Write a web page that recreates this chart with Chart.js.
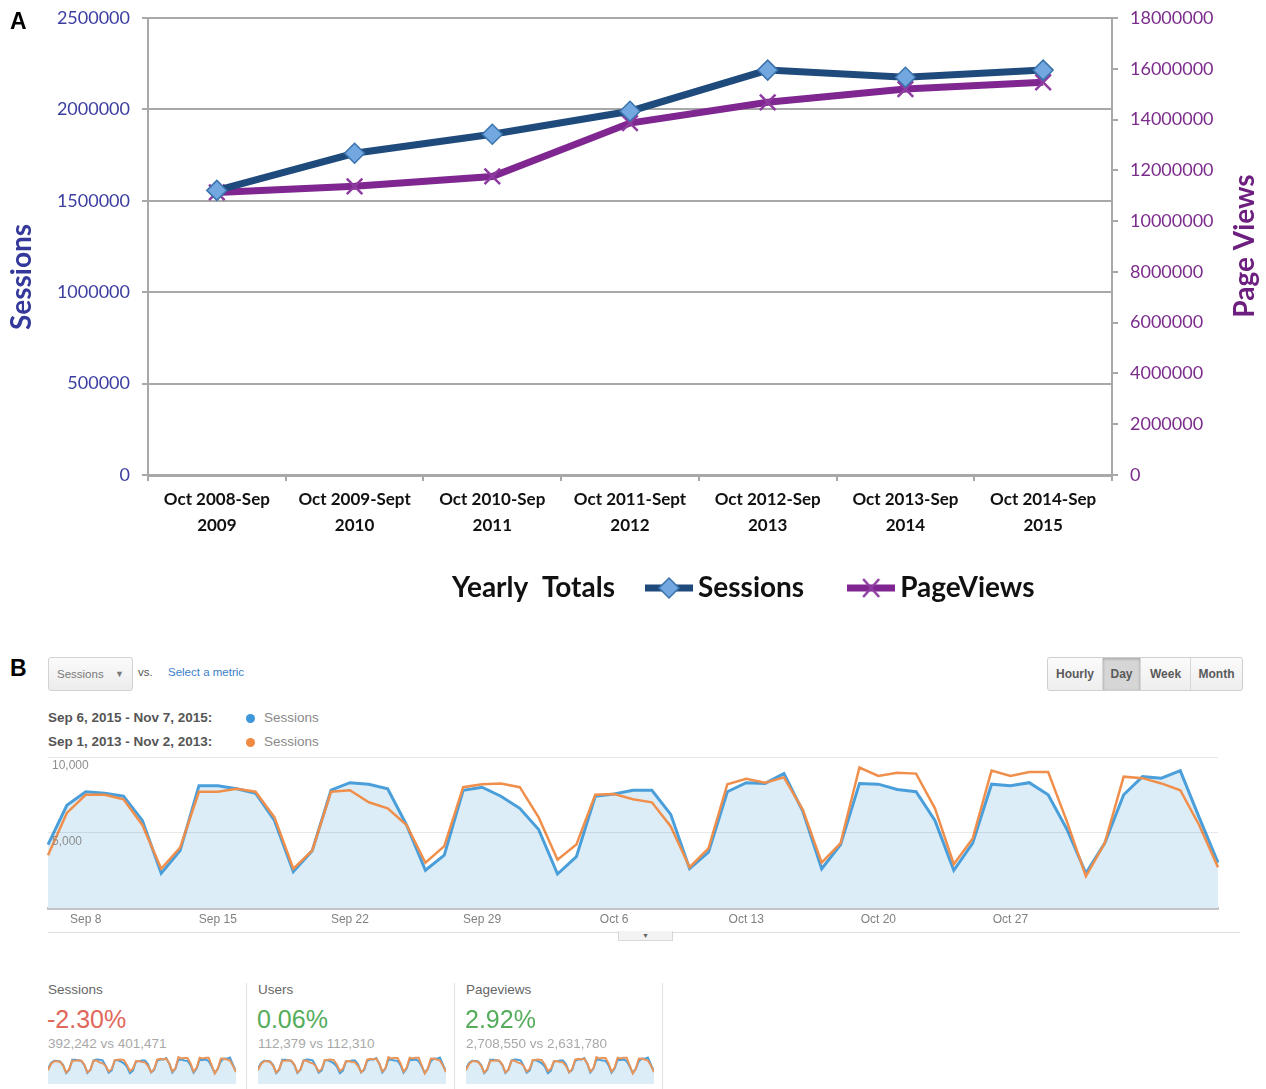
<!DOCTYPE html>
<html>
<head>
<meta charset="utf-8">
<script src="https://cdn.jsdelivr.net/npm/chart.js"></script>
<style>
  body { margin: 0; width: 1266px; height: 1089px; position: relative; overflow: hidden; background: #fff; font-family: "Liberation Sans", Arial, sans-serif; }
  .abs { position: absolute; }
  .panel { font-weight: bold; font-size: 23px; color: #000; }
  .dropdown { left: 48px; top: 657px; width: 83px; height: 32px; border: 1px solid #d2d2d2; border-radius: 3px; background: linear-gradient(#fbfbfb, #ececec); font-size: 11.5px; color: #7a7a7a; line-height: 32px; }
  .btns { left: 1047px; top: 657px; height: 32px; border: 1px solid #cfcfcf; border-radius: 3px; display: flex; background: linear-gradient(#fbfbfb, #eeeeee); }
  .btns span { display: block; height: 32px; line-height: 32px; text-align: center; font-size: 12px; font-weight: bold; color: #5a5a5a; border-left: 1px solid #d6d6d6; }
  .btns span:first-child { border-left: none; }
  .btns span.on { background: #d6d6d6; box-shadow: inset 0 1px 3px rgba(0,0,0,0.25); }
  .range { font-size: 13.5px; font-weight: bold; color: #555; }
  .dot { width: 9px; height: 9px; border-radius: 50%; }
  .ser { font-size: 13.5px; color: #8a8a8a; }
  .mlabel { font-size: 13.5px; color: #666; }
  .mval { font-size: 25px; }
  .msub { font-size: 13.5px; color: #a8a8a8; }
  .sep { width: 1px; background: #e2e2e2; top: 983px; height: 106px; }
</style>
</head>
<body>

<div class="abs" style="left:0;top:0;"><canvas id="yearChart" width="1266" height="653"></canvas></div>
<div class="abs panel" style="left:10px;top:8px;">A</div>

<div class="abs panel" style="left:10px;top:655px;">B</div>
<div class="abs dropdown"><span style="margin-left:8px;">Sessions</span><span style="position:absolute;right:8px;font-size:9px;">&#9660;</span></div>
<div class="abs" style="left:138px;top:666px;font-size:11.5px;color:#555;">vs.</div>
<div class="abs" style="left:168px;top:666px;font-size:11.5px;color:#3a80c9;">Select a metric</div>
<div class="abs btns">
  <span style="width:54px;">Hourly</span><span class="on" style="width:37px;">Day</span><span style="width:49px;">Week</span><span style="width:51px;">Month</span>
</div>

<div class="abs range" style="left:48px;top:710px;">Sep 6, 2015 - Nov 7, 2015:</div>
<div class="abs dot" style="left:246px;top:714px;background:#3d97d8;"></div>
<div class="abs ser" style="left:264px;top:710px;">Sessions</div>
<div class="abs range" style="left:48px;top:734px;">Sep 1, 2013 - Nov 2, 2013:</div>
<div class="abs dot" style="left:246px;top:738px;background:#f08a43;"></div>
<div class="abs ser" style="left:264px;top:734px;">Sessions</div>

<div class="abs" style="left:0;top:745px;"><canvas id="dayChart" width="1266" height="195"></canvas></div>
<div class="abs" style="left:48px;top:932px;width:1192px;height:1px;background:#dedede;"></div>
<div class="abs" style="left:618px;top:931px;width:53px;height:9px;border:1px solid #d8d8d8;border-top:none;background:#f3f3f3;text-align:center;font-size:7px;line-height:9px;color:#666;">&#9660;</div>

<div class="abs sep" style="left:246px;"></div>
<div class="abs sep" style="left:454px;"></div>
<div class="abs sep" style="left:662px;"></div>

<div class="abs mlabel" style="left:48px;top:982px;">Sessions</div>
<div class="abs mval" style="left:47px;top:1005px;color:#e0685b;">-2.30%</div>
<div class="abs msub" style="left:48px;top:1036px;">392,242 vs 401,471</div>
<div class="abs" style="left:48px;top:1054px;"><canvas id="spark1" width="188" height="30"></canvas></div>

<div class="abs mlabel" style="left:258px;top:982px;">Users</div>
<div class="abs mval" style="left:257px;top:1005px;color:#55ad5c;">0.06%</div>
<div class="abs msub" style="left:258px;top:1036px;">112,379 vs 112,310</div>
<div class="abs" style="left:258px;top:1054px;"><canvas id="spark2" width="188" height="30"></canvas></div>

<div class="abs mlabel" style="left:466px;top:982px;">Pageviews</div>
<div class="abs mval" style="left:465px;top:1005px;color:#55ad5c;">2.92%</div>
<div class="abs msub" style="left:466px;top:1036px;">2,708,550 vs 2,631,780</div>
<div class="abs" style="left:466px;top:1054px;"><canvas id="spark3" width="188" height="30"></canvas></div>

<script>
// panel A: yearly totals
var periods = [
  ["Oct 2008-Sep", "2009"],
  ["Oct 2009-Sept", "2010"],
  ["Oct 2010-Sep", "2011"],
  ["Oct 2011-Sept", "2012"],
  ["Oct 2012-Sep", "2013"],
  ["Oct 2013-Sep", "2014"],
  ["Oct 2014-Sep", "2015"]
];
var sessionsYear = [1557000, 1760000, 1864000, 1990000, 2215000, 2176000, 2215000];
var pageViewsYear = [11130000, 11370000, 11760000, 13860000, 14680000, 15200000, 15470000];

// panel B: daily sessions, Sep 6 - Nov 7
var days = [
  "Sep 6","Sep 7","Sep 8","Sep 9","Sep 10","Sep 11","Sep 12",
  "Sep 13","Sep 14","Sep 15","Sep 16","Sep 17","Sep 18","Sep 19",
  "Sep 20","Sep 21","Sep 22","Sep 23","Sep 24","Sep 25","Sep 26",
  "Sep 27","Sep 28","Sep 29","Sep 30","Oct 1","Oct 2","Oct 3",
  "Oct 4","Oct 5","Oct 6","Oct 7","Oct 8","Oct 9","Oct 10",
  "Oct 11","Oct 12","Oct 13","Oct 14","Oct 15","Oct 16","Oct 17",
  "Oct 18","Oct 19","Oct 20","Oct 21","Oct 22","Oct 23","Oct 24",
  "Oct 25","Oct 26","Oct 27","Oct 28","Oct 29","Oct 30","Oct 31",
  "Nov 1","Nov 2","Nov 3","Nov 4","Nov 5","Nov 6","Nov 7"
];
var dayTicks = ["Sep 8", "Sep 15", "Sep 22", "Sep 29", "Oct 6", "Oct 13", "Oct 20", "Oct 27"];
var sessions2015 = [
  4200, 6800, 7700, 7600, 7400, 5800, 2300,
  3800, 8100, 8100, 7900, 7600, 5800, 2400,
  3800, 7800, 8300, 8200, 7900, 5500, 2500,
  3500, 7800, 8000, 7400, 6600, 5200, 2250,
  3400, 7400, 7550, 7800, 7800, 6200, 2600,
  3700, 7700, 8300, 8250, 8900, 6400, 2600,
  4200, 8250, 8200, 7850, 7700, 5800, 2500,
  4300, 8200, 8100, 8300, 7500, 5200, 2300,
  4300, 7500, 8700, 8600, 9100, 6000, 3000
];
var sessions2013 = [
  3500, 6300, 7500, 7500, 7200, 5500, 2600,
  4000, 7700, 7700, 7900, 7700, 6000, 2600,
  3800, 7700, 7800, 7000, 6600, 5500, 3000,
  4100, 8000, 8200, 8250, 8000, 6000, 3200,
  4200, 7500, 7550, 7200, 7000, 5400, 2700,
  3950, 8200, 8550, 8300, 8650, 6500, 3000,
  4300, 9300, 8750, 8950, 8900, 6600, 2900,
  4600, 9100, 8750, 9000, 9000, 5700, 2100,
  4300, 8700, 8600, 8250, 7800, 5500, 2700
];

var navy = "#1f4a7c";
var purple = "#7f2690";
var gridGray = "#a8a8a8";

function makeIcon(kind) {
  var c = document.createElement("canvas");
  c.width = 48; c.height = 24;
  var g = c.getContext("2d");
  g.lineWidth = 7;
  g.strokeStyle = kind === "diamond" ? navy : purple;
  g.beginPath(); g.moveTo(0, 12); g.lineTo(48, 12); g.stroke();
  if (kind === "diamond") {
    g.beginPath();
    g.moveTo(24, 2); g.lineTo(34, 12); g.lineTo(24, 22); g.lineTo(14, 12); g.closePath();
    g.fillStyle = "#72a8df"; g.fill();
    g.lineWidth = 1.5; g.strokeStyle = "#3b73ad"; g.stroke();
  } else {
    g.lineWidth = 2.5; g.strokeStyle = "#8e3ba0";
    g.beginPath();
    g.moveTo(16, 3); g.lineTo(32, 21); g.moveTo(32, 3); g.lineTo(16, 21);
    g.stroke();
  }
  return c;
}
var legendIcons = [makeIcon("diamond"), makeIcon("cross")];

var extrasA = {
  id: "extrasA",
  afterLayout: function(chart) {
    // legend sits to the right of the "Yearly Totals" caption
    chart.legend.left = 602;
    chart.legend.top = 522;
  },
  afterDraw: function(chart) {
    var ctx = chart.ctx;
    ctx.save();
    ctx.font = "bold 28px Lato";
    ctx.fillStyle = "#111";
    ctx.textAlign = "right";
    ctx.textBaseline = "middle";
    ctx.fillText("Yearly  Totals", 615, 588);
    ctx.textAlign = "center";
    // axis titles, both reading bottom to top
    ctx.save();
    ctx.translate(22, 277);
    ctx.rotate(-Math.PI / 2);
    ctx.fillStyle = "#33389a";
    ctx.fillText("Sessions", 0, 0);
    ctx.restore();
    ctx.translate(1245, 246);
    ctx.rotate(-Math.PI / 2);
    ctx.fillStyle = "#6d1f80";
    ctx.fillText("Page Views", 0, 0);
    ctx.restore();
  }
};

function fixSide(width) {
  return function(s) {
    s.width = width;
    s.paddingTop = 0;
  };
}

Chart.defaults.font.family = "Lato";

new Chart("yearChart", {
  type: "line",
  data: {
    labels: periods,
    datasets: [{
      label: "Sessions",
      data: sessionsYear,
      yAxisID: "y",
      borderColor: navy,
      borderWidth: 7,
      pointStyle: "rectRot",
      pointRadius: 10,
      pointBackgroundColor: "#72a8df",
      pointBorderColor: "#3b73ad",
      pointBorderWidth: 1.5,
      tension: 0
    }, {
      label: "PageViews",
      data: pageViewsYear,
      yAxisID: "y1",
      borderColor: purple,
      borderWidth: 7,
      pointStyle: "crossRot",
      pointRadius: 11,
      pointBorderColor: "#8e3ba0",
      pointBorderWidth: 2.5,
      tension: 0
    }]
  },
  options: {
    responsive: false,
    animation: false,
    layout: { autoPadding: false, padding: { top: 18, bottom: 18 } },
    plugins: {
      tooltip: { enabled: false },
      legend: {
        position: "bottom",
        align: "start",
        labels: {
          usePointStyle: true,
          pointStyleWidth: 30,
          padding: 52,
          color: "#111",
          font: { size: 28, weight: "bold" },
          generateLabels: function(chart) {
            var items = Chart.defaults.plugins.legend.labels.generateLabels(chart);
            items.forEach(function(it, i) { it.pointStyle = legendIcons[i]; });
            return items;
          }
        }
      }
    },
    scales: {
      x: {
        offset: true,
        grid: { offset: true, drawOnChartArea: false, tickLength: 6, color: gridGray, lineWidth: 2 },
        border: { color: gridGray, width: 3 },
        ticks: { color: "#111", font: { size: 17, weight: "bold", lineHeight: 1.5 }, padding: 6, maxRotation: 0, autoSkip: false },
        afterFit: function(s) { s.height = 70; }
      },
      y: {
        position: "left",
        min: 0, max: 2500000,
        ticks: { stepSize: 500000, color: "#3c3ea0", font: { size: 18 }, padding: 12, callback: function(v) { return String(v); } },
        grid: { color: gridGray, lineWidth: 2, tickLength: 6 },
        border: { color: gridGray, width: 2 },
        afterFit: fixSide(148)
      },
      y1: {
        position: "right",
        min: 0, max: 18000000,
        ticks: { stepSize: 2000000, color: "#7c2c8c", font: { size: 18 }, padding: 12, callback: function(v) { return String(v); } },
        grid: { drawOnChartArea: false, color: gridGray, lineWidth: 2, tickLength: 6 },
        border: { color: gridGray, width: 2 },
        afterFit: fixSide(154)
      }
    }
  },
  plugins: [extrasA]
});

// panel B: analytics style area chart
var gaFont = "'Liberation Sans', Arial, sans-serif";

new Chart("dayChart", {
  type: "line",
  data: {
    labels: days,
    datasets: [{
      label: "Sep 6, 2015 - Nov 7, 2015",
      data: sessions2015,
      borderColor: "#4a9fda",
      borderWidth: 3,
      backgroundColor: "#dcedf8",
      fill: "origin",
      pointRadius: 0,
      tension: 0,
      order: 1
    }, {
      label: "Sep 1, 2013 - Nov 2, 2013",
      data: sessions2013,
      borderColor: "#f08f4c",
      borderWidth: 2.5,
      fill: false,
      pointRadius: 0,
      tension: 0,
      order: 0
    }]
  },
  options: {
    responsive: false,
    animation: false,
    layout: { padding: { left: 48, right: 48, top: 12, bottom: 8 } },
    plugins: { legend: { display: false }, tooltip: { enabled: false } },
    scales: {
      x: {
        grid: { display: false, drawTicks: false },
        border: { color: "#c4c4c4", width: 3 },
        ticks: {
          autoSkip: false, maxRotation: 0, padding: 4, color: "#808080",
          font: { family: gaFont, size: 12 },
          callback: function(v, i) { return dayTicks.indexOf(days[i]) >= 0 ? days[i] : null; }
        },
        afterFit: function(s) { s.height = 24; }
      },
      y: {
        min: 0, max: 10000,
        border: { display: false },
        grid: {
          z: 1,
          drawTicks: false,
          color: function(c) { return c.tick && c.tick.value === 0 ? "rgba(0,0,0,0)" : "rgba(0,0,0,0.09)"; }
        },
        ticks: {
          z: 1,
          stepSize: 5000, mirror: true, padding: 4, labelOffset: 9, color: "#8e8e8e",
          font: { family: gaFont, size: 12 },
          callback: function(v) { return v === 0 ? "" : v.toLocaleString("en-US"); }
        },
        afterFit: function(s) { s.width = 0; }
      }
    }
  }
});

// sparklines are too small to read per metric; they show the same daily session pattern
["spark1", "spark2", "spark3"].forEach(function(id) {
  new Chart(id, {
    type: "line",
    data: {
      labels: days,
      datasets: [{
        data: sessions2015,
        borderColor: "#4a9fda",
        borderWidth: 2,
        backgroundColor: "#dcedf8",
        fill: "start",
        pointRadius: 0,
        order: 1
      }, {
        data: sessions2013,
        borderColor: "#e9955a",
        borderWidth: 2,
        fill: false,
        pointRadius: 0,
        order: 0
      }]
    },
    options: {
      responsive: false,
      animation: false,
      layout: { padding: { top: 2 } },
      plugins: { legend: { display: false }, tooltip: { enabled: false } },
      scales: {
        x: { display: false },
        y: { display: false, min: -2500, max: 9800 }
      }
    }
  });
});
</script>
</body>
</html>
